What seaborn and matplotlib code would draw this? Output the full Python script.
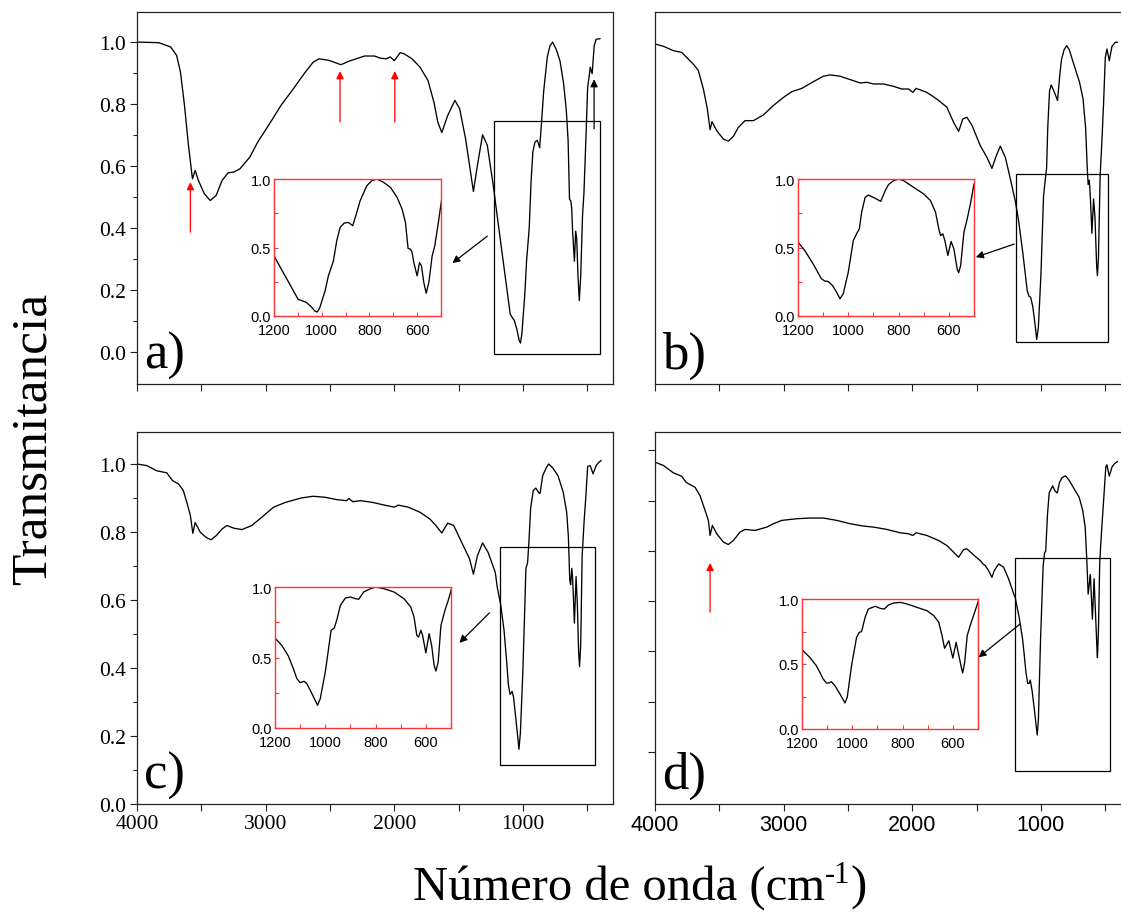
import matplotlib
matplotlib.use("Agg")
import matplotlib.pyplot as plt
from matplotlib.patches import Rectangle
import seaborn as sns

# ---------------- data ----------------
wn_a = [4000, 3831, 3738, 3692, 3662, 3631, 3600, 3569, 3548, 3523, 3477, 3431, 3385, 3338, 3292, 3246, 3200,
        3123, 3062, 2969, 2877, 2785, 2692, 2631, 2585, 2508, 2415, 2354, 2231, 2154, 2108, 2062, 2031, 2000,
        1954, 1923, 1862, 1800, 1738, 1692, 1662, 1631, 1585, 1529, 1492, 1446, 1415, 1385, 1354, 1314, 1277, 1231,
        1200, 1169, 1134, 1099, 1081, 1067, 1047, 1029, 1019, 1008, 986, 972, 951, 937, 923, 906, 888, 870, 853,
        839, 811, 790, 769, 741, 712, 684, 663, 649, 638, 628, 621, 614, 600, 590, 582, 572, 562, 551, 537, 526,
        509, 497, 485, 477, 462, 446, 431, 400]
tr_a = [1.000, 0.998, 0.984, 0.957, 0.903, 0.796, 0.667, 0.559, 0.586, 0.554, 0.511, 0.489, 0.505, 0.554, 0.578,
        0.581, 0.591, 0.629, 0.677, 0.737, 0.798, 0.849, 0.903, 0.935, 0.946, 0.941, 0.927, 0.938, 0.955, 0.955,
        0.948, 0.946, 0.952, 0.940, 0.966, 0.962, 0.946, 0.919, 0.876, 0.806, 0.742, 0.708, 0.763, 0.812, 0.785,
        0.688, 0.602, 0.518, 0.602, 0.701, 0.667, 0.538,
        0.439, 0.341, 0.232, 0.122, 0.110, 0.102, 0.073, 0.037, 0.029, 0.061, 0.183, 0.293, 0.402, 0.549, 0.646,
        0.678, 0.683, 0.659, 0.756, 0.841, 0.951, 0.988, 1.000, 0.976, 0.939, 0.866, 0.780, 0.683, 0.493, 0.488,
        0.463, 0.390, 0.293, 0.390, 0.366, 0.244, 0.166, 0.244, 0.439, 0.512, 0.707, 0.854,
        0.890, 0.919, 0.898, 0.989, 1.009, 1.011]

wn_b = [4000, 3935, 3857, 3793, 3741, 3702, 3663, 3624, 3593, 3572, 3557, 3520, 3468, 3430, 3391, 3352, 3300,
        3235, 3157, 3080, 3002, 2937, 2859, 2768, 2691, 2639, 2561, 2483, 2405, 2353, 2302, 2224, 2146, 2081,
        2029, 1996, 1970, 1887, 1809, 1731, 1679, 1640, 1607, 1576, 1537, 1472, 1420, 1381, 1347, 1316, 1277, 1238,
        1200, 1173, 1140, 1107, 1093, 1080, 1063, 1047, 1033, 1020, 1000, 980, 967, 956, 947, 933, 920, 893, 871,
        853, 840, 820, 800, 780, 740, 700, 673, 653, 640, 633, 624, 616, 604, 591, 580, 567, 561, 553, 540, 527,
        513, 500, 487, 469, 448, 422, 404]
tr_b = [1.005, 0.998, 0.985, 0.980, 0.960, 0.945, 0.926, 0.871, 0.812, 0.750, 0.774, 0.747, 0.722, 0.716, 0.730,
        0.757, 0.777, 0.777, 0.794, 0.822, 0.846, 0.863, 0.873, 0.893, 0.909, 0.913, 0.909, 0.899, 0.889, 0.891,
        0.886, 0.886, 0.879, 0.871, 0.871, 0.861, 0.873, 0.861, 0.841, 0.817, 0.772, 0.745, 0.782, 0.787, 0.764,
        0.703, 0.668, 0.635, 0.673, 0.701, 0.668, 0.604,
        0.539, 0.478, 0.381, 0.272, 0.255, 0.252, 0.223, 0.175, 0.126, 0.163, 0.320, 0.551, 0.600, 0.636, 0.757,
        0.866, 0.883, 0.859, 0.837, 0.915, 0.959, 0.988, 1.000, 0.988, 0.939, 0.891, 0.842, 0.757, 0.636, 0.587,
        0.600, 0.551, 0.442, 0.544, 0.490, 0.345, 0.316, 0.369, 0.612, 0.709, 0.830, 0.964,
        0.990, 0.955, 0.998, 1.010, 1.010]

wn_c = [4000, 3923, 3846, 3769, 3723, 3677, 3640, 3609, 3585, 3566, 3548, 3508, 3462, 3425, 3385, 3338, 3302,
        3246, 3185, 3108, 3031, 2938, 2846, 2723, 2631, 2538, 2446, 2369, 2354, 2323, 2262, 2169, 2077, 2000,
        1969, 1892, 1800, 1723, 1677, 1631, 1585, 1538, 1477, 1415, 1385, 1354, 1314, 1271, 1215,
        1200, 1173, 1147, 1127, 1113, 1100, 1084, 1073, 1053, 1040, 1031, 1020, 1000, 987, 977, 964, 953, 940,
        920, 900, 880, 867, 847, 820, 800, 767, 727, 687, 660, 647, 636, 629, 620, 613, 600, 587, 577, 567, 560,
        551, 540, 524, 511, 497, 477, 455, 431, 410, 391]
tr_c = [1.000, 0.995, 0.980, 0.974, 0.951, 0.941, 0.922, 0.882, 0.848, 0.796, 0.828, 0.799, 0.784, 0.777, 0.789,
        0.809, 0.819, 0.811, 0.807, 0.819, 0.843, 0.873, 0.887, 0.900, 0.905, 0.902, 0.895, 0.892, 0.899, 0.889,
        0.892, 0.887, 0.879, 0.873, 0.879, 0.873, 0.858, 0.838, 0.819, 0.797, 0.826, 0.819, 0.770, 0.721, 0.676,
        0.730, 0.768, 0.740, 0.681,
        0.638, 0.586, 0.511, 0.421, 0.350, 0.322, 0.331, 0.314, 0.243, 0.196, 0.161, 0.208, 0.397, 0.563, 0.693,
        0.709, 0.775, 0.870, 0.922, 0.929, 0.917, 0.913, 0.965, 0.988, 1.000, 0.988, 0.965, 0.917, 0.858, 0.787,
        0.657, 0.645, 0.693, 0.657, 0.532, 0.669, 0.586, 0.444, 0.404, 0.468, 0.728, 0.835, 0.905, 0.993,
        0.995, 0.971, 0.995, 1.005, 1.010]

wn_d = [4000, 3935, 3857, 3793, 3759, 3728, 3689, 3650, 3611, 3585, 3572, 3554, 3520, 3468, 3430, 3391, 3339,
        3300, 3222, 3131, 3080, 3015, 2898, 2794, 2691, 2587, 2483, 2379, 2302, 2198, 2094, 2029, 1996, 1970,
        1887, 1796, 1731, 1679, 1640, 1601, 1576, 1524, 1472, 1451, 1433, 1407, 1381, 1363, 1329, 1290, 1251, 1212,
        1200, 1169, 1143, 1129, 1116, 1103, 1092, 1083, 1069, 1049, 1029, 1020, 1003, 983, 972, 963, 949, 936,
        909, 889, 873, 856, 836, 809, 783, 743, 703, 676, 656, 643, 633, 623, 616, 607, 600, 587, 576, 565, 561,
        553, 543, 529, 509, 496, 487, 469, 448, 430, 404]
tr_d = [1.015, 1.005, 0.983, 0.973, 0.955, 0.948, 0.940, 0.915, 0.871, 0.841, 0.796, 0.826, 0.801, 0.776, 0.769,
        0.781, 0.806, 0.814, 0.811, 0.821, 0.831, 0.841, 0.846, 0.848, 0.848, 0.841, 0.831, 0.824, 0.821, 0.814,
        0.804, 0.801, 0.796, 0.804, 0.796, 0.781, 0.766, 0.746, 0.731, 0.754, 0.756, 0.738, 0.721, 0.711, 0.706,
        0.691, 0.671, 0.691, 0.711, 0.701, 0.666, 0.622,
        0.610, 0.551, 0.487, 0.436, 0.385, 0.354, 0.354, 0.364, 0.333, 0.269, 0.200, 0.244, 0.487, 0.705, 0.744,
        0.749, 0.859, 0.923, 0.944, 0.928, 0.923, 0.954, 0.969, 0.974, 0.962, 0.936, 0.910, 0.872, 0.821, 0.718,
        0.621, 0.654, 0.679, 0.603, 0.546, 0.667, 0.564, 0.462, 0.431, 0.513, 0.718, 0.808, 0.923, 1.000,
        1.007, 0.973, 1.000, 1.010, 1.017]

panel_labels = ["a)", "b)", "c)", "d)"]
main_xticks = [4000, 3000, 2000, 1000]
main_xminor = [3500, 2500, 1500, 500]
main_yticks = [0.0, 0.2, 0.4, 0.6, 0.8, 1.0]
main_yminor = [0.1, 0.3, 0.5, 0.7, 0.9]
d_yticks = [0.15, 0.30, 0.45, 0.60, 0.75, 0.90, 1.05]
inset_xticks = [1200, 1000, 800, 600]
inset_xminor = [1100, 900, 700, 500]
inset_yticks = [0.0, 0.5, 1.0]
inset_yminor = [0.25, 0.75]
xlabel_parts = ["Número de onda (cm", "-1", ")"]
ylabel = "Transmitancia"

# ---------------- style ----------------
sns.set_style("ticks")
plt.rcParams["font.family"] = ["Liberation Serif", "DejaVu Serif"]
plt.rcParams["axes.linewidth"] = 0.9
for k in ["text.color", "axes.labelcolor", "xtick.color", "ytick.color", "axes.edgecolor"]:
    plt.rcParams[k] = "black"
SERIF = "Liberation Serif"
SANS = "Liberation Sans"
EDGE = "#222222"
RED = "#ff3333"

W, H = 1121, 920
fig = plt.figure(figsize=(W / 100, H / 100), dpi=100)
fig.patch.set_facecolor("white")


def px_axes(x0, y0, x1, y1):
    return fig.add_axes([x0 / W, 1 - y1 / H, (x1 - x0) / W, (y1 - y0) / H])


panels = [
    dict(wn=wn_a, tr=tr_a, pos=(137, 13, 613, 385), ylim=(-0.103, 1.097), xlab=None, yt="main",
         inset=(274, 180, 441, 317), box=(1222, 399, -0.006, 0.745),
         arrow=((1277, 0.374), (1549, 0.287)),
         extra=[((3585, 0.387), (3585, 0.548), "red"), ((2422, 0.742), (2422, 0.906), "red"),
                ((1996, 0.742), (1996, 0.906), "red"), ((447, 0.72), (447, 0.88), "black")]),
    dict(wn=wn_b, tr=tr_b, pos=(655, 13, 1131, 385), ylim=(-0.006, 1.10), xlab=None, yt=None,
         inset=(798, 180, 974, 317), box=(1194, 479, 0.12, 0.618),
         arrow=((1208, 0.410), (1506, 0.371)), extra=[]),
    dict(wn=wn_c, tr=tr_c, pos=(137, 433, 613, 805), ylim=(0.0, 1.094), xlab=SERIF, yt="main",
         inset=(275, 588, 451, 729), box=(1178, 440, 0.115, 0.756),
         arrow=((1261, 0.562), (1494, 0.474)), extra=[]),
    dict(wn=wn_d, tr=tr_d, pos=(655, 433, 1131, 805), ylim=(-0.006, 1.105), xlab=SANS, yt="d",
         inset=(802, 600, 978, 730), box=(1205, 461, 0.094, 0.728),
         arrow=((1161, 0.532), (1485, 0.432)),
         extra=[((3572, 0.567), (3572, 0.714), "red")]),
]

for lab, p in zip(panel_labels, panels):
    ax = px_axes(*p["pos"])
    ax.set_facecolor("white")
    sns.lineplot(x=p["wn"], y=p["tr"], ax=ax, color="black", lw=0.95, estimator=None, sort=False)
    ax.set_xlim(4000, 300)
    ax.set_ylim(*p["ylim"])
    for s in ax.spines.values():
        s.set_color(EDGE)
        s.set_linewidth(0.9)
    ax.set_xticks(main_xticks)
    ax.set_xticks(main_xminor, minor=True)
    ax.tick_params(axis="x", which="both", direction="out", length=5, width=0.8, color=EDGE, pad=2)
    if p["xlab"] is None:
        ax.set_xticklabels([])
    else:
        ax.set_xticklabels([str(t) for t in main_xticks], fontsize=15.5, fontfamily=p["xlab"])
    if p["yt"] == "main":
        ax.set_yticks(main_yticks)
        ax.set_yticks(main_yminor, minor=True)
        ax.set_yticklabels([f"{t:.1f}" for t in main_yticks], fontsize=15.5, fontfamily=SERIF)
        ax.tick_params(axis="y", which="major", direction="out", length=5, width=0.8, color=EDGE, pad=3)
        ax.tick_params(axis="y", which="minor", direction="out", length=3, width=0.8, color=EDGE)
    elif p["yt"] == "d":
        ax.set_yticks(d_yticks)
        ax.set_yticklabels([])
        ax.tick_params(axis="y", which="major", direction="out", length=5, width=0.8, color=EDGE)
    else:
        ax.set_yticks([])
    ax.set_xlabel("")
    ax.set_ylabel("")

    # zoom box, arrow to inset, marker arrows
    x1, x2, y1, y2 = p["box"]
    ax.add_patch(Rectangle((x2, y1), x1 - x2, y2 - y1, fill=False, ec="black", lw=0.9, zorder=3))
    tail, head = p["arrow"]
    ax.annotate("", xy=head, xytext=tail, annotation_clip=False,
                arrowprops=dict(arrowstyle="-|>", color="black", lw=0.9, mutation_scale=11,
                                shrinkA=0, shrinkB=0))
    for t0, t1, col in p["extra"]:
        ax.annotate("", xy=t1, xytext=t0, annotation_clip=False,
                    arrowprops=dict(arrowstyle="-|>", color=col, lw=0.9, mutation_scale=11,
                                    shrinkA=0, shrinkB=0))
    ax.text(0.014, 0.045, lab, transform=ax.transAxes, fontsize=38, fontfamily=SERIF,
            ha="left", va="baseline", color="black")

    # inset
    axi = px_axes(*p["inset"])
    axi.set_facecolor("white")
    sns.lineplot(x=p["wn"], y=p["tr"], ax=axi, color="black", lw=0.95, estimator=None, sort=False)
    axi.set_xlim(1200, 500)
    axi.set_ylim(0, 1)
    for s in axi.spines.values():
        s.set_color(RED)
        s.set_linewidth(1.0)
    axi.set_xticks(inset_xticks)
    axi.set_xticks(inset_xminor, minor=True)
    axi.set_yticks(inset_yticks)
    axi.set_yticks(inset_yminor, minor=True)
    axi.set_xticklabels([str(t) for t in inset_xticks], fontsize=10.5, fontfamily=SANS)
    axi.set_yticklabels([f"{t:.1f}" for t in inset_yticks], fontsize=10.5, fontfamily=SANS)
    axi.tick_params(axis="both", which="both", direction="in", length=3, width=0.8,
                    color=RED, labelcolor="black")
    axi.tick_params(axis="x", pad=5)
    axi.tick_params(axis="y", pad=2)
    axi.set_xlabel("")
    axi.set_ylabel("")

fig.text(33 / W, 1 - 439 / H, ylabel, rotation=90, fontsize=37, fontfamily=SERIF,
         ha="center", va="center", color="black")

# x label composed of pieces so the superscript keeps a plain hyphen
renderer = fig.canvas.get_renderer()
base = 900
specs = [(xlabel_parts[0], 35, 0), (xlabel_parts[1], 22, 17), (xlabel_parts[2], 35, 0)]
pieces, widths = [], []
for s, fs, dy in specs:
    t = fig.text(0, 1 - (base - dy) / H, s, fontsize=fs, fontfamily=SERIF, ha="left",
                 va="baseline", color="black")
    pieces.append(t)
    widths.append(t.get_window_extent(renderer).width)
xpos = 640 - sum(widths) / 2
for t, w in zip(pieces, widths):
    t.set_x(xpos / W)
    xpos += w

fig.savefig("out.png", dpi=100, facecolor="white")
